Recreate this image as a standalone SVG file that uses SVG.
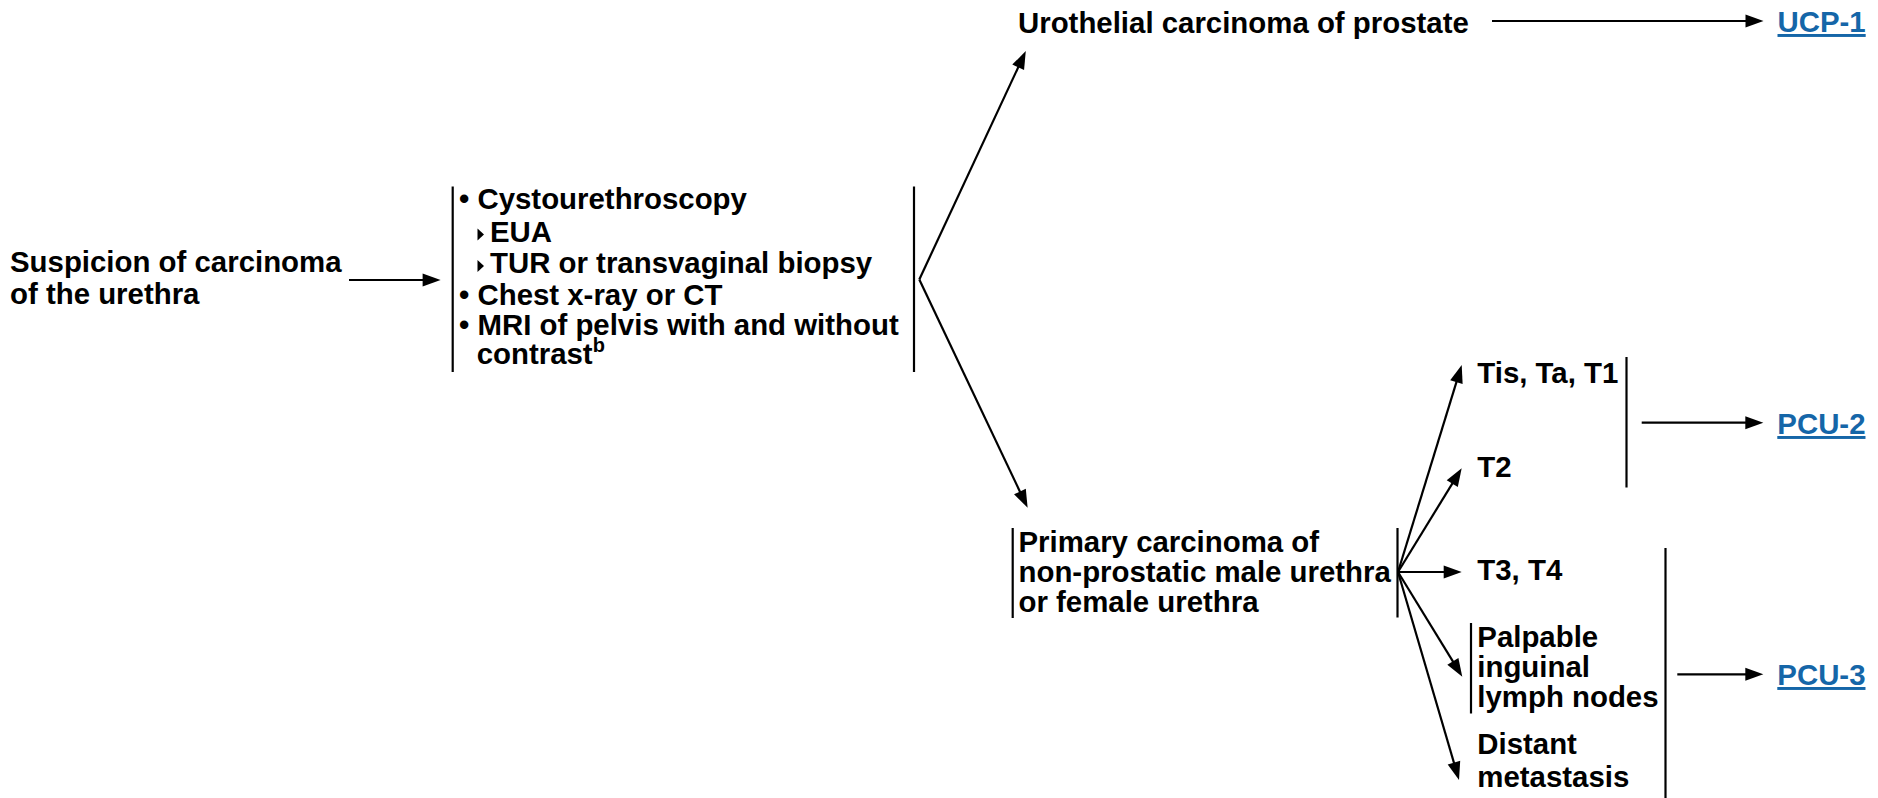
<svg xmlns="http://www.w3.org/2000/svg" width="1878" height="798" viewBox="0 0 1878 798">
<style>
text{font-family:"Liberation Sans",Arial,Helvetica,sans-serif;font-weight:bold;font-size:29.4px;fill:#000}
.link{fill:#1566a8;text-decoration:underline}
.bar{stroke:#000;stroke-width:2.2;fill:none}
.conn line,.conn path{stroke:#000;stroke-width:2.2;fill:none}
.arr{marker-end:url(#ah)}
.tri{fill:#000}
</style>
<defs>
<marker id="ah" markerUnits="userSpaceOnUse" markerWidth="20" markerHeight="14" refX="10" refY="6.5" orient="auto" overflow="visible">
<path d="M0,0 L18,6.5 L0,13 z" fill="#000"/>
</marker>
</defs>
<rect width="1878" height="798" fill="#fff"/>

<g id="suspicion">
<text x="10" y="271.7">Suspicion of carcinoma</text>
<text x="10" y="303.5">of the urethra</text>
</g>

<g id="workup">
<line class="bar" x1="452.7" y1="186.5" x2="452.7" y2="372"/>
<line class="bar" x1="914" y1="186.5" x2="914" y2="372"/>
<text x="459" y="208.5">• Cystourethroscopy</text>
<polygon class="tri" points="477.5,228.5 484,234.5 477.5,240.5"/>
<text x="490" y="241.7">EUA</text>
<polygon class="tri" points="477.5,260.1 484,266.1 477.5,272.1"/>
<text x="490" y="273.3">TUR or transvaginal biopsy</text>
<text x="459" y="304.5">• Chest x-ray or CT</text>
<text x="459" y="334.5">• MRI of pelvis with and without</text>
<text x="476.7" y="364">contrast<tspan dy="-12" font-size="20">b</tspan></text>
</g>

<g id="urothelial">
<text x="1018" y="33">Urothelial carcinoma of prostate</text>
</g>

<g id="ucp1">
<text class="link" x="1777.5" y="32">UCP-1</text>
</g>

<g id="primary">
<line class="bar" x1="1012.7" y1="528" x2="1012.7" y2="618"/>
<line class="bar" x1="1397.5" y1="528" x2="1397.5" y2="617.5"/>
<text x="1018.5" y="551.7">Primary carcinoma of</text>
<text x="1018.5" y="581.7">non-prostatic male urethra</text>
<text x="1018.5" y="611.7">or female urethra</text>
</g>

<g id="tis">
<text x="1477.3" y="383.3">Tis, Ta, T1</text>
</g>
<g id="t2">
<text x="1477.3" y="476.7">T2</text>
</g>
<g id="t3">
<text x="1477.3" y="580.3">T3, T4</text>
</g>
<g id="palpable">
<line class="bar" x1="1471" y1="623" x2="1471" y2="713.5"/>
<text x="1477.3" y="646.7">Palpable</text>
<text x="1477.3" y="676.7">inguinal</text>
<text x="1477.3" y="706.7">lymph nodes</text>
</g>
<g id="distant">
<text x="1477.3" y="754">Distant</text>
<text x="1477.3" y="787">metastasis</text>
</g>

<g id="pcu2">
<text class="link" x="1777.3" y="434">PCU-2</text>
</g>
<g id="pcu3">
<text class="link" x="1777.3" y="685">PCU-3</text>
</g>

<g id="connectors" class="conn">
<line class="arr" x1="349" y1="280" x2="432.6" y2="280"/>
<line class="arr" x1="919.3" y1="279.5" x2="1022.4" y2="58.3"/>
<line class="arr" x1="919.3" y1="279.5" x2="1024.2" y2="500.6"/>
<line class="arr" x1="1492" y1="21" x2="1755.5" y2="21"/>
<line class="arr" x1="1398" y1="572" x2="1459.35" y2="372.65"/>
<line class="arr" x1="1398" y1="572" x2="1457.5" y2="475.1"/>
<line class="arr" x1="1398" y1="572" x2="1453.7" y2="572"/>
<line class="arr" x1="1398" y1="572" x2="1458.1" y2="669.9"/>
<line class="arr" x1="1398" y1="572" x2="1456.75" y2="772.3"/>
<line x1="1626.5" y1="357" x2="1626.5" y2="487.5"/>
<line class="arr" x1="1641.7" y1="422.7" x2="1755.3" y2="422.7"/>
<line x1="1665.5" y1="548" x2="1665.5" y2="798"/>
<line class="arr" x1="1677.3" y1="674.3" x2="1755.3" y2="674.3"/>
</g>
</svg>
